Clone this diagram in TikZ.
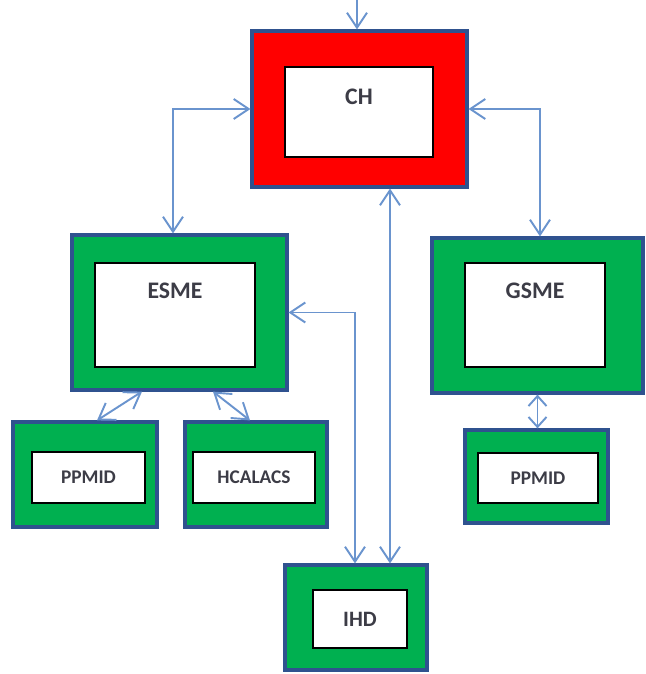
\documentclass[tikz,border=0pt]{standalone}
\usepackage{fontspec}
\setmainfont{Carlito}
\usepackage{xcolor}
\usepackage{tikz}
\usetikzlibrary{arrows.meta}
\definecolor{chred}{RGB}{255,0,0}
\definecolor{boxgreen}{RGB}{0,176,80}
\definecolor{rimblue}{RGB}{47,82,143}
\definecolor{linkblue}{RGB}{106,148,206}
\definecolor{inktext}{RGB}{60,60,70}
\tikzstyle{rimbox} = [rectangle, inner sep=0pt, draw=rimblue, line width=1.8pt]
\tikzstyle{redbox} = [rimbox, fill=chred]
\tikzstyle{greenbox} = [rimbox, fill=boxgreen]
\tikzstyle{pane} = [rectangle, inner sep=0pt, text centered, draw=black, line width=1.4pt, fill=white, text=inktext]
\tikzstyle{tallpane} = [pane, font=\fontsize{13.5}{16}\selectfont\bfseries]
\tikzstyle{smallpane} = [pane, font=\fontsize{11}{13}\selectfont\bfseries]
\tikzstyle{link} = [line width=1.1pt, draw=linkblue, <->, >={Straight Barb[length=3mm, width=4mm]}]
\tikzstyle{shortlink} = [link, >={Straight Barb[length=2mm, width=3.6mm]}]

\begin{document}
\begin{tikzpicture}
\useasboundingbox (0,0) rectangle (12.9,-13.48);

% frames
\node (ch) [redbox, minimum width=4.30cm, minimum height=3.12cm, xshift=7.19cm, yshift=-2.18cm] {};
\node (esme) [greenbox, minimum width=4.30cm, minimum height=3.10cm, xshift=3.59cm, yshift=-6.25cm] {};
\node (gsme) [greenbox, minimum width=4.22cm, minimum height=3.10cm, xshift=10.75cm, yshift=-6.31cm] {};
\node (ppmidl) [greenbox, minimum width=2.88cm, minimum height=2.10cm, xshift=1.70cm, yshift=-9.49cm] {};
\node (hcalacs) [greenbox, minimum width=2.84cm, minimum height=2.10cm, xshift=5.12cm, yshift=-9.49cm] {};
\node (ppmidr) [greenbox, minimum width=2.86cm, minimum height=1.86cm, xshift=10.73cm, yshift=-9.53cm] {};
\node (ihd) [greenbox, minimum width=2.84cm, minimum height=2.10cm, xshift=7.12cm, yshift=-12.35cm] {};

% panes
\node (chpane) [tallpane, minimum width=2.96cm, text height=0.74cm, text depth=1.06cm, xshift=7.18cm, yshift=-2.24cm] {CH};
\node (esmepane) [tallpane, minimum width=3.20cm, text height=0.70cm, text depth=1.38cm, xshift=3.50cm, yshift=-6.30cm] {ESME};
\node (gsmepane) [tallpane, minimum width=2.80cm, text height=0.70cm, text depth=1.38cm, xshift=10.70cm, yshift=-6.30cm] {GSME};
\node (ppmidlpane) [smallpane, minimum width=2.26cm, minimum height=1.02cm, xshift=1.77cm, yshift=-9.55cm] {PPMID};
\node (hcalacspane) [smallpane, minimum width=2.44cm, minimum height=1.02cm, xshift=5.08cm, yshift=-9.55cm] {HCALACS};
\node (ppmidrpane) [smallpane, minimum width=2.40cm, minimum height=1.00cm, xshift=10.76cm, yshift=-9.56cm] {PPMID};
\node (ihdpane) [pane, font=\fontsize{12.5}{15}\selectfont\bfseries, minimum width=1.88cm, minimum height=1.16cm, xshift=7.20cm, yshift=-12.38cm] {IHD};

\coordinate (top) at (7.14,0);

\draw [link, ->] (top) -- (top |- ch.north);
\draw [link] (ch.west) -| ([xshift=-1.3mm]esme.north);
\draw [link] (ch.east) -| ([xshift=0.5mm]gsme.north);
\draw [link] ([xshift=-0.75cm]esme.south) -- ([xshift=0.24cm]ppmidl.north);
\draw [link] ([xshift=0.67cm]esme.south) -- ([xshift=-0.12cm]hcalacs.north);
\draw [shortlink] (gsme.south) -- (gsme.south |- ppmidr.north);
\draw [link] ([xshift=6.1mm]ch.south) -- ([xshift=6.1mm]ch.south |- ihd.north);
\draw [link] (esme.east) -| ([xshift=-0.02cm]ihd.north);
\end{tikzpicture}
\end{document}
